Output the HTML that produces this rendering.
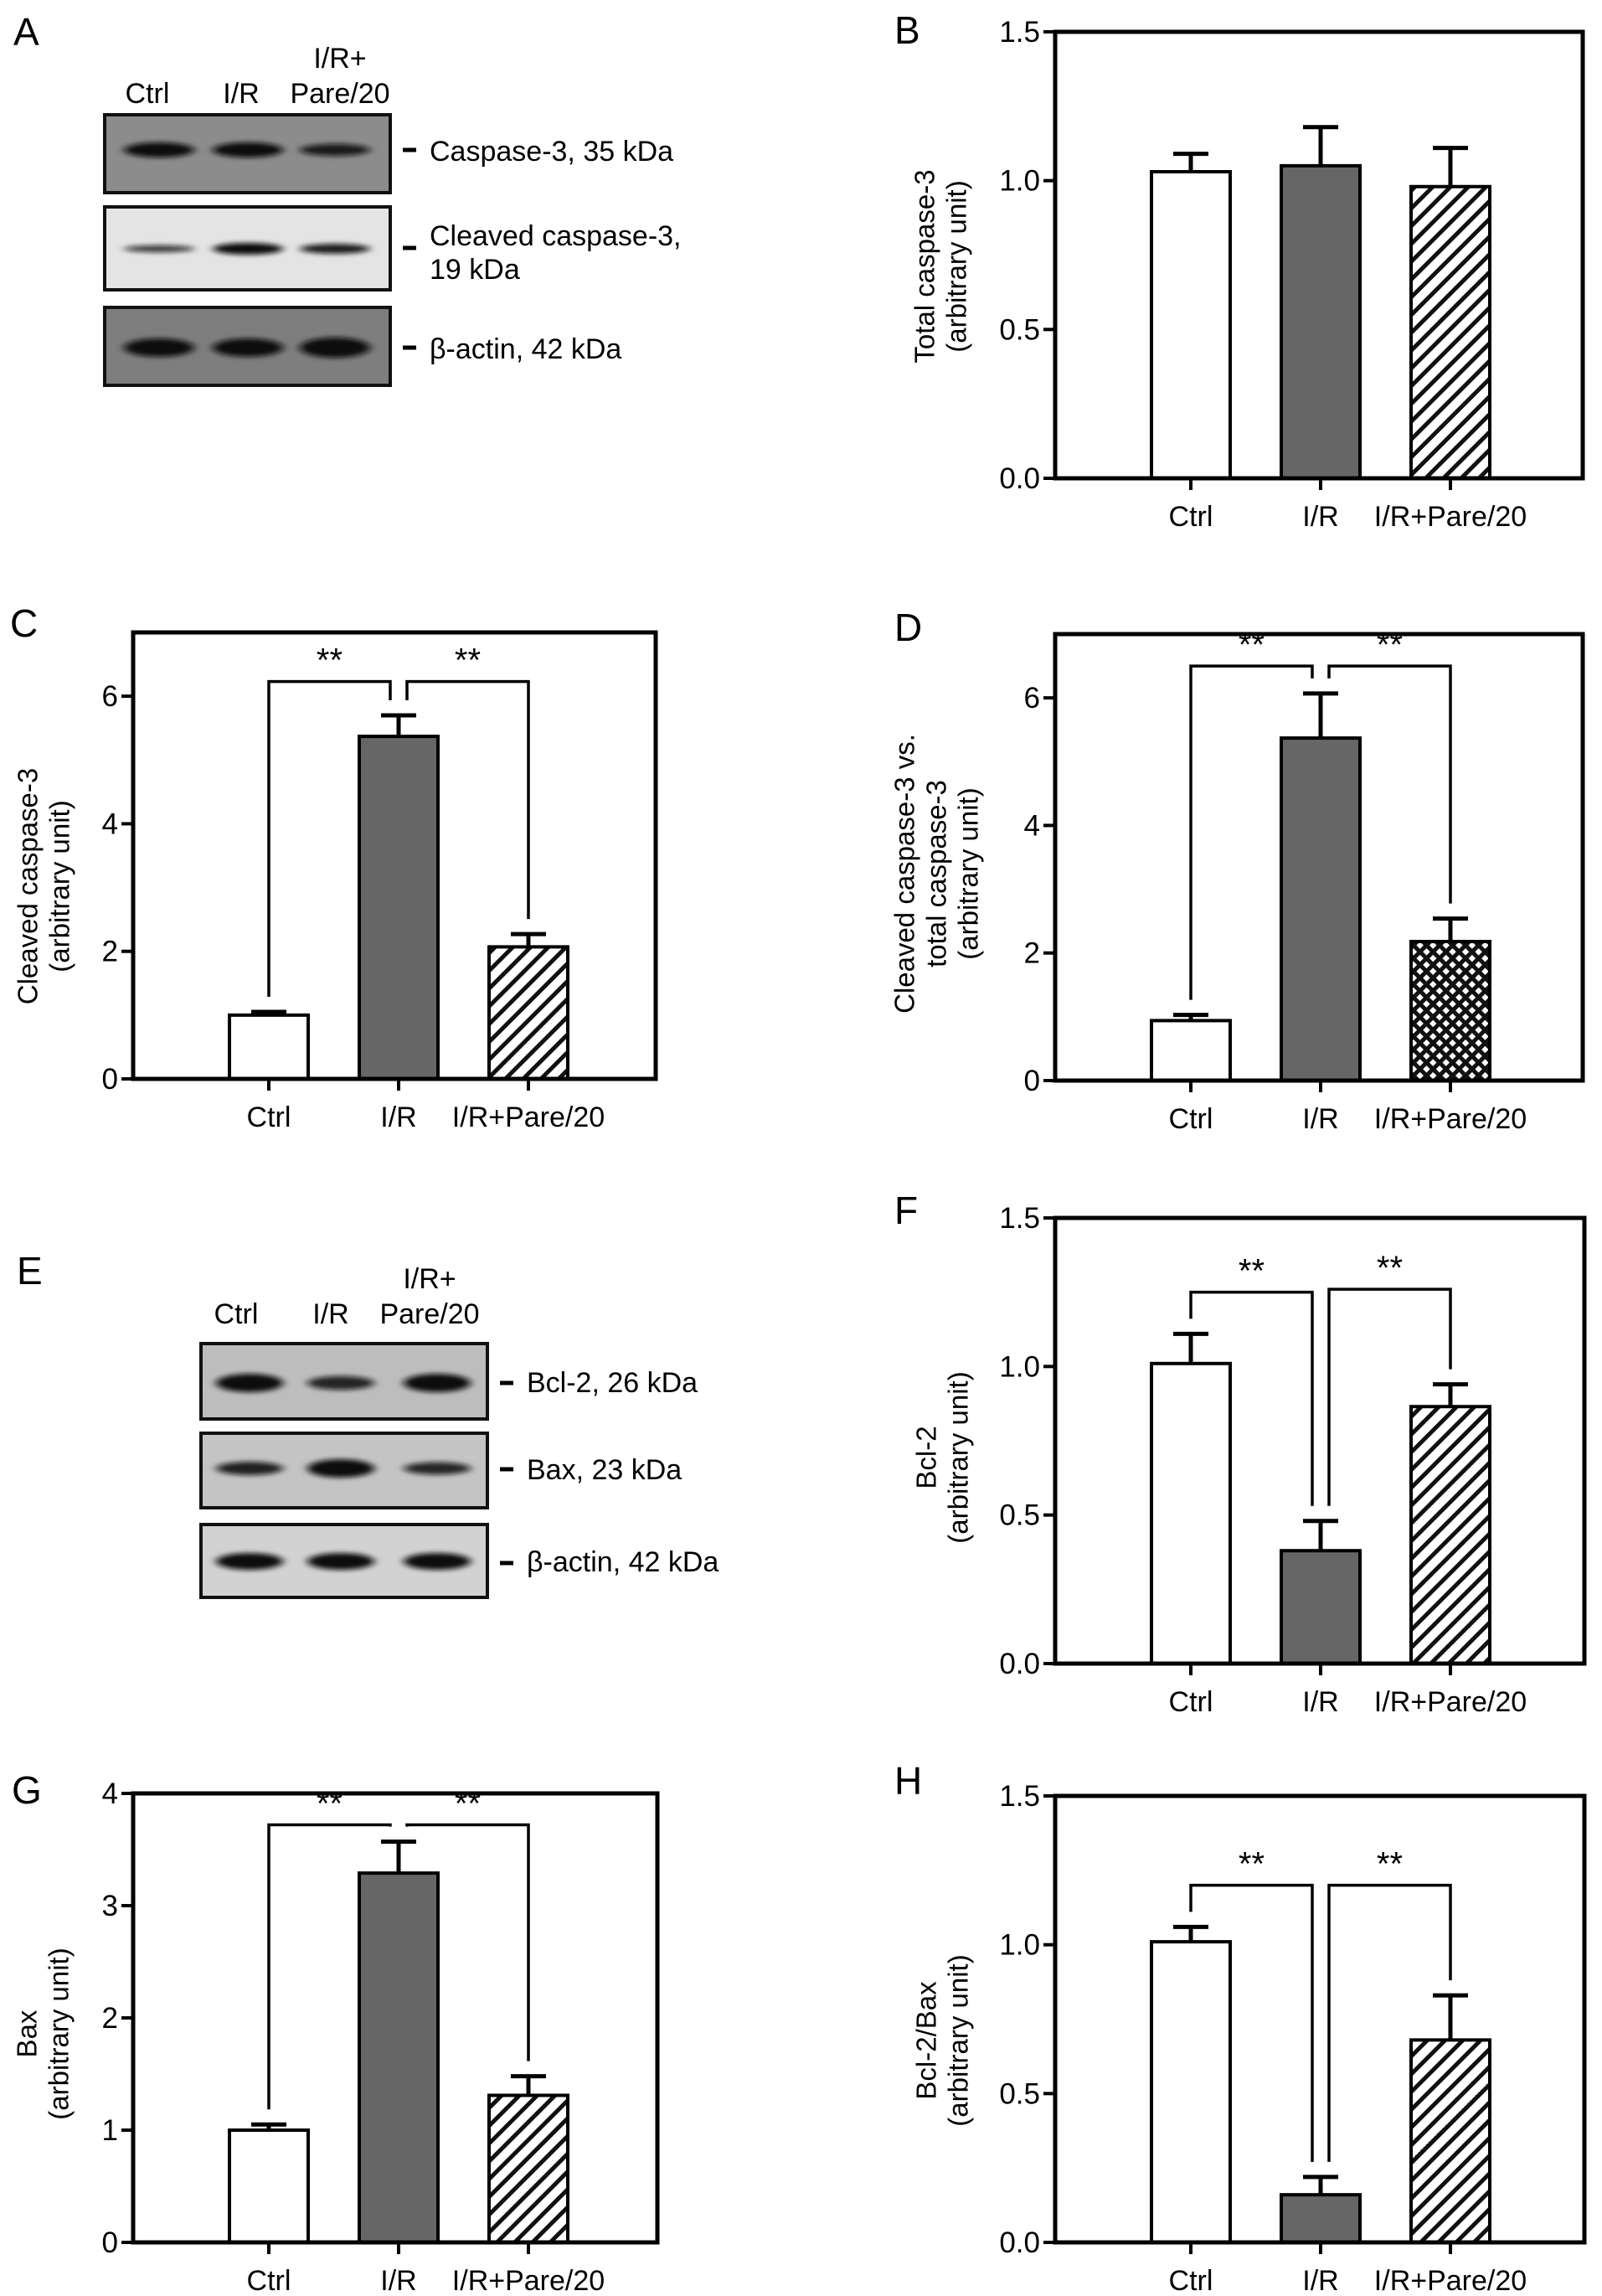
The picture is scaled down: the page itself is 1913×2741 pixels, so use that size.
<!DOCTYPE html>
<html><head><meta charset="utf-8">
<style>
html,body{margin:0;padding:0;background:#fff;}
svg{display:block;font-family:"Liberation Sans",Arial,sans-serif;}
</style></head>
<body>
<svg id="fig" xmlns="http://www.w3.org/2000/svg" width="1913" height="2741" viewBox="0 0 1913 2741">
<defs>
  <pattern id="hatch" patternUnits="userSpaceOnUse" width="15" height="15" patternTransform="rotate(45)">
    <rect width="15" height="15" fill="#fff"/>
    <rect x="0" y="0" width="5" height="15" fill="#111"/>
  </pattern>
  <pattern id="cross" patternUnits="userSpaceOnUse" width="11" height="11" patternTransform="rotate(45)">
    <rect width="11" height="11" fill="#111"/>
    <rect x="3" y="3" width="6" height="6" fill="#fff"/>
  </pattern>
  <filter id="blur" x="-20%" y="-100%" width="140%" height="300%"><feGaussianBlur stdDeviation="5 3"/></filter>
</defs>
<g id="blots"></g>
<g id="charts"></g>
</svg>
<script>
// ---- data ----
const categories = ["Ctrl", "I/R", "I/R+Pare/20"];
const valsB = [1.03, 1.05, 0.98];
const errB  = [1.09, 1.18, 1.11];
const valsC = [1.0, 5.37, 2.07];
const errC  = [1.05, 5.70, 2.27];
const valsD = [0.94, 5.37, 2.18];
const errD  = [1.03, 6.07, 2.54];
const valsF = [1.01, 0.38, 0.865];
const errF  = [1.11, 0.48, 0.94];
const valsG = [1.0, 3.29, 1.31];
const errG  = [1.05, 3.57, 1.48];
const valsH = [1.01, 0.16, 0.68];
const errH  = [1.06, 0.22, 0.83];
const ticks15 = ["0.0", "0.5", "1.0", "1.5"];
const ticks7 = ["0", "2", "4", "6"];
const ticks4 = ["0", "1", "2", "3", "4"];
const sigC = [6.23, 6.23];
const sigD = [6.5, 6.5];
const sigF = [1.25, 1.26];
const sigG = [3.72, 3.72];
const sigH = [1.2, 1.2];

const NS = "http://www.w3.org/2000/svg";
function mk(tag, attrs, parent) {
  const e = document.createElementNS(NS, tag);
  for (const k in attrs) e.setAttribute(k, attrs[k]);
  parent.appendChild(e);
  return e;
}
const charts = document.getElementById('charts');

function panel(cfg) {
  const g = mk('g', {}, charts);
  
  
  const {l, r, t, b, ymax, step} = cfg;
  const y = v => b - (v / ymax) * (b - t);
  const x = i => l + 162 + i * 155;
  const lt = mk('text', {x: cfg.lx, y: cfg.ly, 'font-size': 46}, g);
  lt.textContent = cfg.id;
  
  
  cfg.vals.forEach((v, i) => {
    const fill = i === 0 ? '#fff' : (i === 1 ? '#666' : (cfg.cross ? 'url(#cross)' : 'url(#hatch)'));
    const bar = mk('rect', {x: x(i) - 47, y: y(v), width: 94, height: b - y(v), fill: fill, stroke: '#000', 'stroke-width': 4}, g);
    
    
    const eb = mk('path', {d: `M${x(i)} ${y(v)}V${y(cfg.err[i])}M${x(i) - 21} ${y(cfg.err[i])}H${x(i) + 21}`, stroke: '#000', 'stroke-width': 5, fill: 'none'}, g);
    
    
    const tk = mk('line', {x1: x(i), x2: x(i), y1: b, y2: b + 14, stroke: '#000', 'stroke-width': 4}, g);
    
    
    const lab = mk('text', {x: x(i), y: b + 57, 'font-size': 34, 'text-anchor': 'middle'}, g);
    lab.textContent = categories[i];
    
    
  });
  const box = mk('rect', {x: l, y: t, width: r - l, height: b - t, fill: 'none', stroke: '#000', 'stroke-width': 5}, g);
  
  
  cfg.ticks.forEach((s, k) => {
    const v = k * step;
    const tl = mk('line', {x1: l - 14, x2: l, y1: y(v), y2: y(v), stroke: '#000', 'stroke-width': 4}, g);
    
    
    const tx = mk('text', {x: l - 18, y: y(v) + 12, 'font-size': 35, 'text-anchor': 'end'}, g);
    tx.textContent = s;
    
    
  });
  const tg = mk('g', {transform: `translate(${cfg.tx},${cfg.ty}) rotate(-90)`}, g);
  
  
  cfg.title.forEach((line, k) => {
    const tt = mk('text', {x: 0, y: k * 38, 'font-size': 33, 'text-anchor': 'middle', 'dominant-baseline': 'central'}, tg);
    tt.textContent = line;
  });
  if (cfg.sig) {
    const by0 = y(cfg.sig[0]), by1 = y(cfg.sig[1]);
    const legs = [
      [x(0), y(cfg.err[0]) - 18, x(1) - 10, y(cfg.err[1]) - 18, by0],
      [x(1) + 10, y(cfg.err[1]) - 18, x(2), y(cfg.err[2]) - 18, by1]
    ];
    legs.forEach((L) => {
      const p = mk('path', {d: `M${L[0]} ${L[1]}V${L[4]}H${L[2]}V${L[3]}`, fill: 'none', stroke: '#000', 'stroke-width': 3.5}, g);
      
      
      const st = mk('text', {x: (L[0] + L[2]) / 2, y: L[4] - 12, 'font-size': 40, 'text-anchor': 'middle'}, g);
      st.textContent = '**';
      
      
    });
  }
}

panel({id: 'B', l: 1260, r: 1890, t: 38, b: 571, ymax: 1.5, step: 0.5, ticks: ticks15, vals: valsB, err: errB,
  lx: 1068, ly: 52, tx: 1104, ty: 318, title: ['Total caspase-3', '(arbitrary unit)']});
panel({id: 'C', l: 159, r: 783, t: 755, b: 1288, ymax: 7, step: 2, ticks: ticks7, vals: valsC, err: errC, sig: sigC,
  lx: 12, ly: 760, tx: 33, ty: 1058, title: ['Cleaved caspase-3', '(arbitrary unit)']});
panel({id: 'D', l: 1260, r: 1890, t: 757, b: 1290, ymax: 7, step: 2, ticks: ticks7, vals: valsD, err: errD, sig: sigD, cross: true,
  lx: 1068, ly: 765, tx: 1080, ty: 1043, title: ['Cleaved caspase-3 vs.', 'total caspase-3', '(arbitrary unit)']});
panel({id: 'F', l: 1260, r: 1892, t: 1454, b: 1986, ymax: 1.5, step: 0.5, ticks: ticks15, vals: valsF, err: errF, sig: sigF,
  lx: 1068, ly: 1461, tx: 1106, ty: 1740, title: ['Bcl-2', '(arbitrary unit)']});
panel({id: 'G', l: 159, r: 785, t: 2141, b: 2677, ymax: 4, step: 1, ticks: ticks4, vals: valsG, err: errG, sig: sigG,
  lx: 14, ly: 2153, tx: 32, ty: 2428, title: ['Bax', '(arbitrary unit)']});
panel({id: 'H', l: 1260, r: 1892, t: 2144, b: 2677, ymax: 1.5, step: 0.5, ticks: ticks15, vals: valsH, err: errH, sig: sigH,
  lx: 1068, ly: 2142, tx: 1106, ty: 2436, title: ['Bcl-2/Bax', '(arbitrary unit)']});

// ---- western blots ----
const blots = document.getElementById('blots');
function blot(cfg) {
  const g = mk('g', {}, blots);
  
  
  const lt = mk('text', {x: cfg.lx, y: cfg.ly, 'font-size': 46}, g);
  lt.textContent = cfg.id;
  
  
  cfg.head.forEach(h => {
    const t = mk('text', {x: h[0], y: h[1], 'font-size': 34, 'text-anchor': 'middle'}, g);
    t.textContent = h[2];
    
    
  });
  cfg.rows.forEach(row => {
    const rg = mk('g', {}, g);
    
    
    mk('rect', {x: cfg.l, y: row.t, width: cfg.r - cfg.l, height: row.b - row.t, fill: row.bg}, rg);
    cfg.lanes.forEach((cx, i) => {
      mk('ellipse', {cx: cx, cy: row.band, rx: cfg.bw, ry: row.bh * row.int[i], fill: '#111', 'fill-opacity': Math.min(1, 0.5 + row.int[i] * 0.5), filter: 'url(#blur)'}, rg);
    });
    mk('rect', {x: cfg.l, y: row.t, width: cfg.r - cfg.l, height: row.b - row.t, fill: 'none', stroke: '#111', 'stroke-width': 4}, rg);
    mk('line', {x1: cfg.r + 15, x2: cfg.r + 31, y1: row.dash, y2: row.dash, stroke: '#000', 'stroke-width': 5}, rg);
    row.label.forEach((s, k) => {
      const t = mk('text', {x: cfg.r + 47, y: row.ly + k * 40, 'font-size': 34}, rg);
      t.textContent = s;
      
      
    });
  });
}
blot({id: 'A', lx: 16, ly: 54, l: 125, r: 466, bw: 42, lanes: [190, 296, 400],
  head: [[176, 123, 'Ctrl'], [288, 123, 'I/R'], [406, 81, 'I/R+'], [406, 123, 'Pare/20']],
  rows: [
    {t: 137, b: 230, bg: '#8c8c8c', band: 179, bh: 9, int: [1, 1, 0.8], dash: 179, ly: 192, label: ['Caspase-3, 35 kDa']},
    {t: 247, b: 346, bg: '#e4e4e4', band: 297, bh: 7, int: [0.6, 1, 0.85], dash: 296, ly: 293, label: ['Cleaved caspase-3,', '19 kDa']},
    {t: 367, b: 460, bg: '#7e7e7e', band: 415, bh: 11, int: [1, 1, 1.1], dash: 415, ly: 428, label: ['\u03B2-actin, 42 kDa']}
  ]});
blot({id: 'E', lx: 20, ly: 1533, l: 240, r: 582, bw: 40, lanes: [298, 407, 522],
  head: [[282, 1580, 'Ctrl'], [395, 1580, 'I/R'], [513, 1538, 'I/R+'], [513, 1580, 'Pare/20']],
  rows: [
    {t: 1604, b: 1694, bg: '#bdbdbd', band: 1651, bh: 11, int: [1, 0.75, 1], dash: 1651, ly: 1662, label: ['Bcl-2, 26 kDa']},
    {t: 1711, b: 1800, bg: '#c4c4c4', band: 1753, bh: 10, int: [0.8, 1.1, 0.75], dash: 1754, ly: 1766, label: ['Bax, 23 kDa']},
    {t: 1820, b: 1907, bg: '#d2d2d2', band: 1864, bh: 10, int: [1, 1, 1], dash: 1866, ly: 1876, label: ['\u03B2-actin, 42 kDa']}
  ]});
</script>
</body></html>
